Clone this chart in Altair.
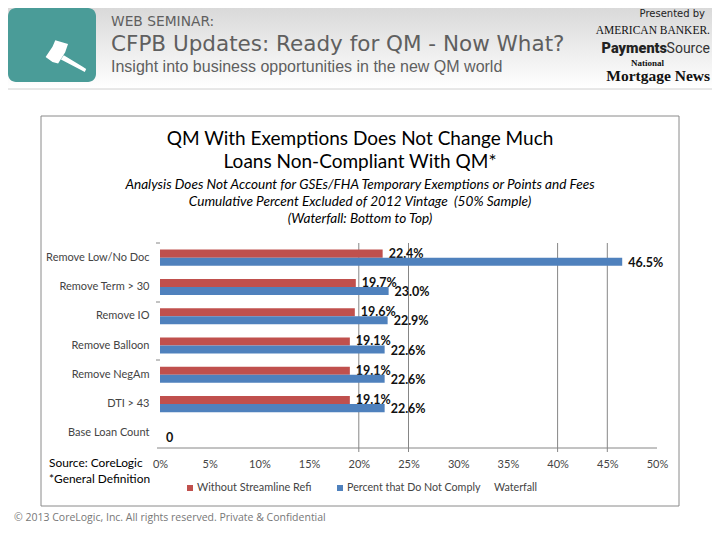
import altair as alt
import pandas as pd

categories = ["Remove Low/No Doc", "Remove Term > 30", "Remove IO", "Remove Balloon",
              "Remove NegAm", "DTI > 43", "Base Loan Count"]
series_red = "Without Streamline Refi"
series_blue = "Percent that Do Not Comply"
red_values = [22.4, 19.7, 19.6, 19.1, 19.1, 19.1]
blue_values = [46.5, 23.0, 22.9, 22.6, 22.6, 22.6, 0]
grid_values = [20, 25, 40, 45]
tick_values = [0, 5, 10, 15, 20, 25, 30, 35, 40, 45, 50]

RED, BLUE, GRID = "#c0504d", "#4f81bd", "#868686"
OX, OY = 160, 243
W, H = 497, 205


def lab(v):
    return f"{v:.1f}%" if v else "0"


red_df = pd.DataFrame({"cat": categories[:6], "v": red_values, "s": series_red,
                       "label": [lab(v) for v in red_values]})
blue_df = pd.DataFrame({"cat": categories, "v": blue_values, "s": series_blue,
                        "label": [lab(v) for v in blue_values]})

x_scale = alt.Scale(domain=[0, 50], nice=False)
y_scale = alt.Scale(domain=categories, paddingInner=0.45, paddingOuter=0.225)
off_scale = alt.Scale(domain=[series_red, series_blue])

x_axis = alt.Axis(values=tick_values, labelExpr="datum.value + '%'", ticks=False, grid=False,
                  domain=False, labelPadding=10, labelFontSize=11, labelColor="#444444",
                  labelFont="Lato", zindex=1, labelFlush=False, labelOverlap=False)
y_axis = alt.Axis(ticks=False, domain=False, labelPadding=11, labelFontSize=11,
                  labelColor="#444444", labelFont="Lato", labelLimit=140, zindex=1)
x_enc = alt.X("v:Q", scale=x_scale, title=None, axis=x_axis)
y_enc = alt.Y("cat:N", scale=y_scale, sort=categories, title=None, axis=y_axis)
off = alt.YOffset("s:N", scale=off_scale)


def bars(df, color):
    return alt.Chart(df).mark_bar(color=color).encode(x=x_enc, y=y_enc, yOffset=off)


def labels(df, dy):
    return alt.Chart(df).mark_text(align="left", baseline="middle", dx=6, dy=dy, fontSize=12.5,
                                   fontWeight="bold", font="Lato", color="#111111").encode(
        x=x_enc, y=y_enc, yOffset=off, text="label:N")


grid = alt.Chart(pd.DataFrame({"g": grid_values})).mark_rule(color=GRID, strokeWidth=1).encode(
    x=alt.X("g:Q", scale=x_scale, title=None, axis=x_axis), y=alt.value(0), y2=alt.value(H + 4))


def T(text, px, py, size, align="left", color="#000000", font="Lato", **kw):
    return alt.Chart().mark_text(text=text, align=align, baseline="middle", fontSize=size,
                                 color=color, font=font, **kw).encode(
        x=alt.value(px - OX), y=alt.value(py - OY))


def R(x0, y0, x1, y1, **kw):
    return alt.Chart().mark_rect(**kw).encode(
        x=alt.value(x0 - OX), x2=alt.value(x1 - OX), y=alt.value(y0 - OY), y2=alt.value(y1 - OY))


def L(x0, y0, x1, y1, color=GRID, width=1):
    return alt.Chart().mark_rule(color=color, strokeWidth=width).encode(
        x=alt.value(x0 - OX), x2=alt.value(x1 - OX), y=alt.value(y0 - OY), y2=alt.value(y1 - OY))


band = alt.Gradient(gradient="linear", x1=0, x2=0, y1=0, y2=1,
                    stops=[alt.GradientStop(offset=0, color="#d9d9d9"),
                           alt.GradientStop(offset=1, color="#ffffff")])

gavel = ("M-1.01,0.05 L-0.67,-0.46 L-0.53,-0.78 L0.10,-0.60 L-0.04,-0.18 L-0.39,0.375 L-0.67,0.30 Z "
         "M-0.11,-0.04 L0.79,0.51 L1.0,0.65 L0.93,0.79 L0.65,0.65 L-0.25,0.17 Z")

header = [
    R(8, 8, 712, 88, color=band),
    L(8, 89, 712, 89, color="#d0d0d0"),
    R(8, 8, 96, 82, color="#4a9c98", cornerRadius=8),
    alt.Chart().mark_point(shape=gavel, filled=True, color="#ffffff", opacity=1, size=1630).encode(
        x=alt.value(66 - OX), y=alt.value(56 - OY)),
    T("WEB SEMINAR:", 111, 22, 13.8, color="#5f5f5f", font="DejaVu Sans"),
    T("CFPB Updates: Ready for QM - Now What?", 111, 45, 21.5, color="#5f5f5f", font="DejaVu Sans"),
    T("Insight into business opportunities in the new QM world", 111, 67, 16, color="#5f5f5f",
      font="Liberation Sans"),
    T("Presented by", 705, 14, 10, align="right", color="#222222", font="DejaVu Sans"),
    T("AMERICAN BANKER.", 710, 31, 11.5, align="right", color="#111111", font="Liberation Serif"),
    T("Payments", 667, 49, 14.5, align="right", color="#222222", font="Roboto", fontWeight=900),
    T("Source", 710, 49, 14, align="right", color="#333333", font="Roboto"),
    T("National", 664, 63, 9, align="right", color="#111111", font="Liberation Serif", fontWeight="bold"),
    T("Mortgage News", 710, 76, 15.5, align="right", color="#111111", font="Liberation Serif", fontWeight="bold"),
]

frame = [
    alt.Chart().mark_rect(fill="#ffffff", stroke="#8a8a8a", strokeWidth=1).encode(
        x=alt.value(41 - OX), x2=alt.value(679 - OX), y=alt.value(116 - OY), y2=alt.value(506 - OY)),
]

titles = [
    T("QM With Exemptions Does Not Change Much", 360, 139, 19, align="center"),
    T("Loans Non-Compliant With QM*", 360, 162, 19, align="center"),
    T("Analysis Does Not Account for GSEs/FHA Temporary Exemptions or Points and Fees", 360, 185, 13.6,
      align="center", fontStyle="italic"),
    T("Cumulative Percent Excluded of 2012 Vintage\u00a0\u00a0(50% Sample)", 360, 202, 13.6, align="center",
      fontStyle="italic"),
    T("(Waterfall: Bottom to Top)", 360, 219, 13.6, align="center", fontStyle="italic"),
    T("Source: CoreLogic", 49, 463, 11.9),
    T("*General Definition", 49, 479, 11.9),
    T("© 2013 CoreLogic, Inc. All rights reserved. Private & Confidential", 14, 518, 10.5,
      color="#777777", font="Open Sans"),
]

legend = [
    R(187, 485, 193, 491, color=RED),
    T(series_red, 197, 488, 10.9, color="#444444"),
    R(337, 485, 343, 491, color=BLUE),
    T(series_blue, 347, 488, 10.7, color="#444444"),
    T("Waterfall", 494, 488, 10.7, color="#444444"),
]

axis_bits = [
    L(157, 448, 657, 448),
    L(156, 243, 160, 243),
    L(156, 302, 160, 302),
    L(156, 360, 160, 360),
]

chart = alt.layer(
    *header, *frame, *titles, *legend, grid,
    bars(red_df, RED), labels(red_df, 0),
    bars(blue_df, BLUE), labels(blue_df, 1),
    *axis_bits,
).resolve_scale(x="shared", y="shared").properties(
    width=W, height=H,
    autosize=alt.AutoSizeParams(type="none"),
    padding={"left": OX - 8, "top": OY - 8, "right": 704 - (OX - 8) - W, "bottom": 524 - (OY - 8) - H},
    background="#ffffff",
).configure_view(stroke=None)

chart.save("out.html", embed_options={"renderer": "svg", "actions": False})
